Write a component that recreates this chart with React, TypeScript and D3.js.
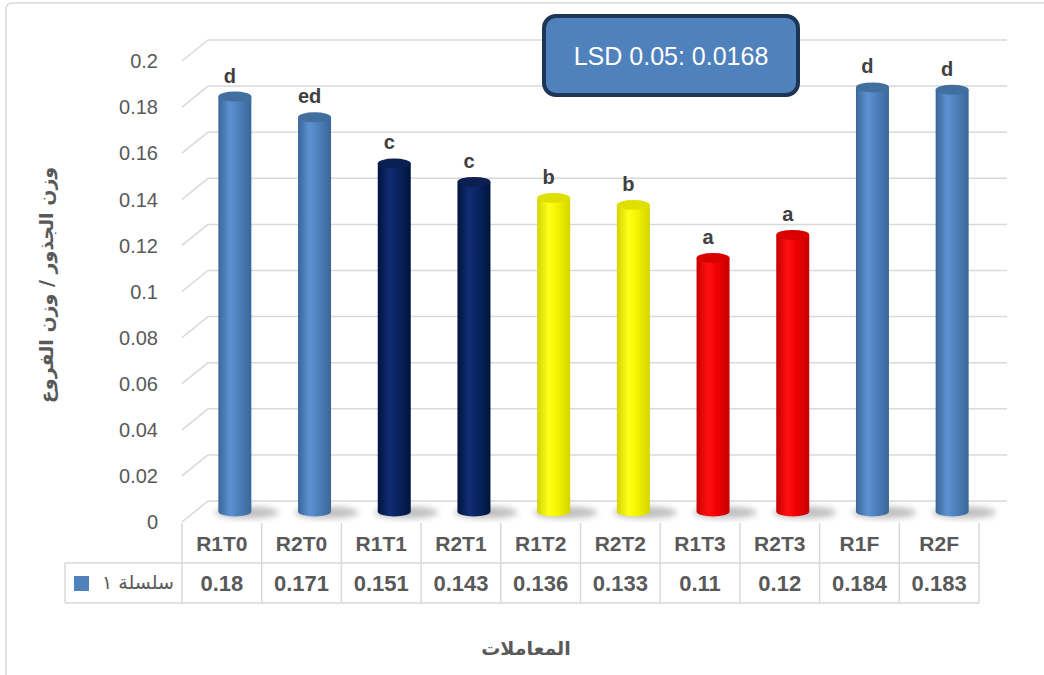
import React from "react";
import * as d3 from "d3";

const categories = ["R1T0", "R2T0", "R1T1", "R2T1", "R1T2", "R2T2", "R1T3", "R2T3", "R1F", "R2F"];
const values = [0.18, 0.171, 0.151, 0.143, 0.136, 0.133, 0.11, 0.12, 0.184, 0.183];
const valueLabels = ["0.18", "0.171", "0.151", "0.143", "0.136", "0.133", "0.11", "0.12", "0.184", "0.183"];
const letters = ["d", "ed", "c", "c", "b", "b", "a", "a", "d", "d"];
const groups = ["T0", "T0", "T1", "T1", "T2", "T2", "T3", "T3", "F", "F"];
const yTicks = [0, 0.02, 0.04, 0.06, 0.08, 0.1, 0.12, 0.14, 0.16, 0.18, 0.2];
const yTickLabels = ["0", "0.02", "0.04", "0.06", "0.08", "0.1", "0.12", "0.14", "0.16", "0.18", "0.2"];
const seriesName = "سلسلة ١";
const yTitle = "وزن الجذور / وزن الفروع";
const xTitle = "المعاملات";
const lsdText = "LSD 0.05: 0.0168";

const palette: Record<string, { edge: string; mid: string; light: string; top: string }> = {
  T0: { edge: "#3a6699", mid: "#4f81bd", light: "#5d91d2", top: "#41709f" },
  F: { edge: "#3a6699", mid: "#4f81bd", light: "#5d91d2", top: "#41709f" },
  T1: { edge: "#00143d", mid: "#0a2462", light: "#112d72", top: "#0b1f52" },
  T2: { edge: "#d4d400", mid: "#f5f500", light: "#ffff1a", top: "#e0e000" },
  T3: { edge: "#c80000", mid: "#f00000", light: "#ff1010", top: "#d80000" },
};

export default function App() {
  const W = 1044;
  const H = 675;
  const left = 182;
  const right = 979;
  const dx = 26;
  const dy = -21;
  const y = d3.scaleLinear().domain([0, 0.2]).range([522, 61]);
  const x = d3.scaleBand<string>().domain(categories).range([left, right]).padding(0);
  const rx = 16.5;
  const ry = 5;
  const grid = "#d9d9d9";
  const tableTop = 523;
  const rowMid = 563;
  const tableBottom = 603;
  const legendLeft = 65;

  return (
    <svg width={W} height={H} style={{ position: "absolute", left: 0, top: 0 }}>
      <defs>
        {Object.keys(palette).map((k) => (
          <linearGradient key={k} id={`g-${k}`} x1="0" x2="1" y1="0" y2="0">
            <stop offset="0" stopColor={palette[k].edge} />
            <stop offset="0.35" stopColor={palette[k].light} />
            <stop offset="0.6" stopColor={palette[k].mid} />
            <stop offset="1" stopColor={palette[k].edge} />
          </linearGradient>
        ))}
        <filter id="blur" x="-50%" y="-200%" width="200%" height="500%">
          <feGaussianBlur stdDeviation="3" />
        </filter>
      </defs>
      <rect x={0} y={0} width={W} height={H} fill="#ffffff" />
      <rect x={6} y={3} width={W + 20} height={H + 20} fill="none" stroke={grid} strokeWidth={1.5} rx={6} />

      {yTicks.map((t) => (
        <g key={t}>
          <line x1={left} y1={y(t)} x2={left + dx} y2={y(t) + dy} stroke={grid} strokeWidth={1.5} />
          <line x1={left + dx} y1={y(t) + dy} x2={right + 28} y2={y(t) + dy} stroke={grid} strokeWidth={1.5} />
        </g>
      ))}

      {yTicks.map((t, i) => (
        <text
          key={t}
          x={158}
          y={y(t)}
          dy="0.36em"
          textAnchor="end"
          fontFamily="Liberation Sans, Arial, sans-serif"
          fontSize={20}
          fill="#595959"
        >
          {yTickLabels[i]}
        </text>
      ))}

      {categories.map((c) => {
        const cx = (x(c) as number) + x.bandwidth() / 2 + dx / 2;
        const by = y(0) + dy / 2;
        return (
          <ellipse key={c} cx={cx + 12} cy={by + 1} rx={32} ry={6} fill="#000" opacity={0.25} filter="url(#blur)" />
        );
      })}

      {categories.map((c, i) => {
        const cx = (x(c) as number) + x.bandwidth() / 2 + dx / 2;
        const by = y(0) + dy / 2;
        const ty = y(values[i]) + dy / 2;
        const g = groups[i];
        const body = `M${cx - rx},${ty} L${cx - rx},${by} A${rx},${ry} 0 0 0 ${cx + rx},${by} L${cx + rx},${ty} Z`;
        return (
          <g key={c}>
            <path d={body} fill={`url(#g-${g})`} />
            <ellipse cx={cx} cy={ty} rx={rx} ry={ry} fill={palette[g].top} />
            <text
              x={cx - 5}
              y={ty - ry - 9}
              textAnchor="middle"
              fontFamily="Liberation Sans, Arial, sans-serif"
              fontWeight="bold"
              fontSize={20}
              fill="#404040"
            >
              {letters[i]}
            </text>
          </g>
        );
      })}

      <g stroke={grid} strokeWidth={1.5}>
        <line x1={legendLeft} y1={rowMid} x2={right} y2={rowMid} />
        <line x1={legendLeft} y1={tableBottom} x2={right} y2={tableBottom} />
        <line x1={legendLeft} y1={rowMid} x2={legendLeft} y2={tableBottom} />
        {categories.map((c) => (
          <line key={c} x1={x(c)} y1={tableTop} x2={x(c)} y2={tableBottom} />
        ))}
        <line x1={right} y1={tableTop} x2={right} y2={tableBottom} />
      </g>
      {categories.map((c, i) => {
        const cx = (x(c) as number) + x.bandwidth() / 2;
        return (
          <g key={c} fontFamily="Liberation Sans, Arial, sans-serif" fontWeight="bold" fill="#595959" textAnchor="middle">
            <text x={cx} y={(tableTop + rowMid) / 2} dy="0.36em" fontSize={21}>
              {c}
            </text>
            <text x={cx} y={(rowMid + tableBottom) / 2} dy="0.36em" fontSize={22}>
              {valueLabels[i]}
            </text>
          </g>
        );
      })}
      <rect x={74} y={576} width={15} height={15} fill="#4f81bd" />
      <text
        x={174}
        y={(rowMid + tableBottom) / 2}
        dy="0.33em"
        textAnchor="end"
        fontFamily="DejaVu Sans, sans-serif"
        fontSize={19}
        fill="#595959"
      >
        {seriesName}
      </text>

      <text
        transform={`translate(46,285) rotate(-90)`}
        textAnchor="middle"
        dy="0.35em"
        fontFamily="DejaVu Sans, sans-serif"
        fontWeight="bold"
        fontSize={19}
        fill="#595959"
      >
        {yTitle}
      </text>
      <text
        x={526}
        y={648}
        textAnchor="middle"
        dy="0.35em"
        fontFamily="DejaVu Sans, sans-serif"
        fontWeight="bold"
        fontSize={19}
        fill="#595959"
      >
        {xTitle}
      </text>

      <rect x={544} y={16} width={254} height={79} rx={12} fill="#4f81bd" stroke="#1e3556" strokeWidth={4} />
      <text
        x={671}
        y={55.5}
        dy="0.36em"
        textAnchor="middle"
        fontFamily="Liberation Sans, Arial, sans-serif"
        fontSize={25}
        fill="#ffffff"
      >
        {lsdText}
      </text>
    </svg>
  );
}
